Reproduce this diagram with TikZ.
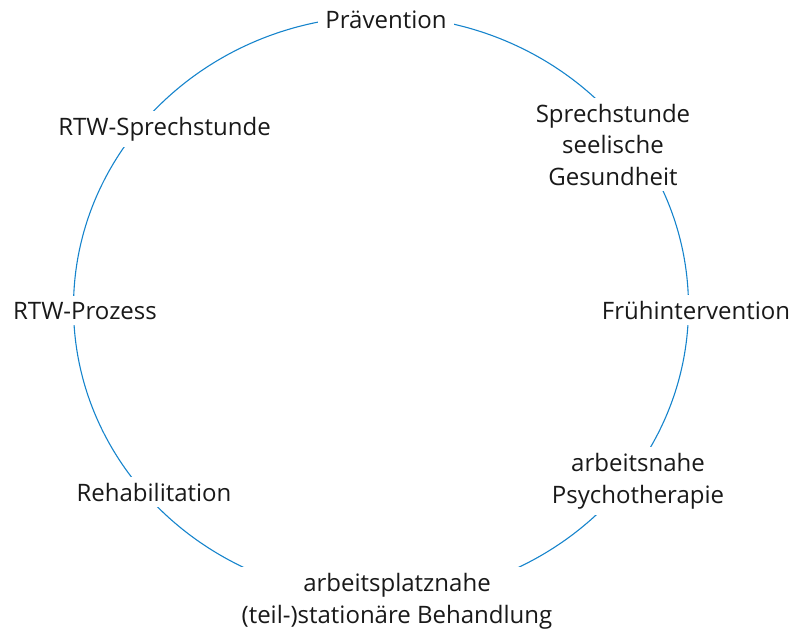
\documentclass[tikz,border=0pt]{standalone}
\usepackage{fontspec}
\setmainfont{Open Sans}
\definecolor{ringblue}{RGB}{22,132,204}
\begin{document}
\begin{tikzpicture}[x=1pt,y=-1pt,
  ring/.style={draw=ringblue, line width=1.1pt},
  lbl/.style={fill=white, inner xsep=7pt, inner ysep=6pt, align=center, anchor=base,
    font=\fontsize{24}{31.5}\selectfont, text=black!90}]
\useasboundingbox (0,0) rectangle (793,632);
\draw[ring] (381,307) ellipse [x radius=307.5, y radius=291];
\node[lbl] (praev) at (386,28) {Prävention};
\node[lbl] (sprech) at (613,185) {Sprechstunde\\seelische\\Gesundheit};
\node[lbl] (frueh) at (696,319) {Frühintervention};
\node[lbl] (psycho) at (638,503) {arbeitsnahe\\Psychotherapie};
\node[lbl] (stat) at (397,623) {arbeitsplatznahe\\(teil-)stationäre Behandlung};
\node[lbl] (reha) at (154,501) {Rehabilitation};
\node[lbl] (rtwp) at (85,319) {RTW-Prozess};
\node[lbl] (rtws) at (164.5,135) {RTW-Sprechstunde};
\end{tikzpicture}
\end{document}
